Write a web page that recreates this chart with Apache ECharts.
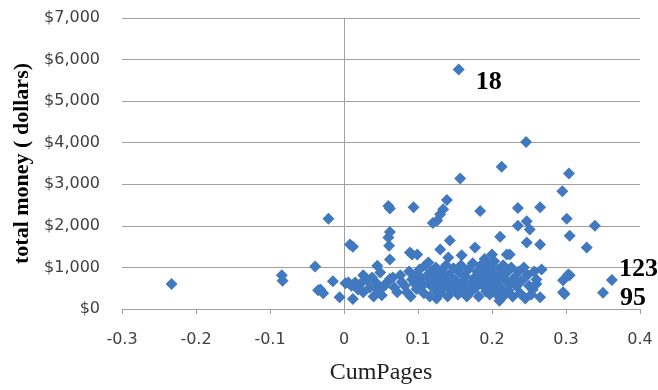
<!DOCTYPE html>
<html>
<head>
<meta charset="utf-8">
<script src="https://cdn.jsdelivr.net/npm/echarts@6/dist/echarts.min.js"></script>
<style>
  html, body { margin: 0; padding: 0; background: #fff; }
  #chart { width: 658px; height: 390px; }
</style>
</head>
<body>
<div id="chart"></div>
<script>
var chart = echarts.init(document.getElementById('chart'));

// CumPages vs total money
var points = [
  [-0.233,600],[-0.084,810],[-0.083,680],[-0.039,1020],[-0.035,450],[-0.028,380],
  [-0.021,2170],[-0.032,470],[-0.015,670],[-0.006,280],[0.008,1550],[0.012,1500],[0.006,640],
  [0.060,2480],[0.062,2420],[0.094,2450],[0.062,1850],[0.060,1720],[0.061,1520],[0.062,1190],
  [0.092,1310],[0.045,1040],
  [0.155,5760],[0.246,4020],[0.157,3140],[0.213,3420],[0.304,3260],[0.295,2830],
  [0.139,2620],[0.134,2400],[0.130,2280],[0.126,2130],[0.120,2070],[0.184,2360],[0.235,2430],
  [0.265,2450],[0.301,2170],[0.339,2000],[0.235,2000],[0.247,2110],[0.251,1910],[0.211,1740],
  [0.305,1760],[0.143,1650],[0.328,1480],[0.247,1600],[0.265,1550],[0.089,1360],[0.130,1430],
  [0.177,1480],[0.224,1310],[0.141,1240],[0.159,1290],[0.114,1120],[0.099,1310],[0.200,1310],
  [0.220,1310],
  [0.296,690],[0.305,810],[0.298,360],[0.350,390],[0.362,700],
  [0.267,950],[0.260,710],[0.255,470],[0.265,280],[0.303,830],[0.296,400],
  [0.002,620],[0.010,560],[0.015,640],[0.019,470],[0.012,240],[0.022,600],[0.026,400],[0.026,810],
  [0.031,710],[0.035,520],[0.038,760],[0.040,300],[0.044,620],[0.049,880],[0.051,330],[0.047,450],
  [0.055,560],[0.058,640],[0.062,720],[0.066,760],[0.068,520],[0.072,400],[0.076,810],[0.078,650],
  [0.082,560],[0.085,400],[0.088,900],[0.090,300],[0.092,710],[0.095,620],[0.099,830],[0.098,480],
  [0.102,950],[0.104,720],[0.106,560],[0.108,380],[0.110,1050],[0.112,800],[0.114,620],[0.116,300],
  [0.118,900],[0.120,700],[0.122,480],[0.124,1000],[0.125,250],[0.127,820],[0.128,600],[0.130,380],
  [0.132,920],[0.134,700],[0.136,520],[0.138,1050],[0.140,300],[0.142,820],[0.144,620],[0.146,450],
  [0.148,980],[0.150,700],
  [0.152,550],[0.154,350],[0.156,880],[0.158,1050],[0.160,650],[0.162,480],[0.164,780],[0.166,300],
  [0.168,950],[0.170,600],[0.172,420],[0.174,1100],[0.176,750],[0.178,520],[0.180,900],[0.182,300],
  [0.184,680],[0.185,1050],[0.186,820],[0.188,560],[0.190,1200],[0.191,950],[0.192,420],[0.193,750],
  [0.194,1100],[0.195,600],[0.196,880],[0.197,350],[0.198,1000],[0.199,700],
  [0.200,520],[0.202,850],[0.203,1150],[0.205,380],[0.206,650],[0.208,950],[0.210,200],[0.211,780],
  [0.213,500],[0.215,1050],[0.216,320],[0.218,700],[0.220,880],[0.222,450],[0.224,600],[0.226,1000],
  [0.228,300],[0.230,750],[0.233,550],[0.236,900],[0.238,380],[0.240,680],[0.243,1000],[0.245,250],
  [0.248,820],[0.250,560],[0.253,350],[0.257,900],[0.260,600]
];

// outliers that carry a case number in the picture
var tagged = [
  { at: [0.155,5760], text: '18',  offset: [6, 13] },
  { at: [0.362,700],  text: '123', offset: [-4, -11] },
  { at: [0.350,390],  text: '95',  offset: [6, 5] }
];

var xTicks = { min: -0.3, max: 0.4, step: 0.1 };
var yTicks = { min: 0, max: 7000, step: 1000 };

var data = points.map(function (p) {
  var t = tagged.filter(function (g) { return g.at[0] === p[0] && g.at[1] === p[1]; })[0];
  if (!t) return p;
  return {
    value: p,
    label: {
      show: true, position: 'right', formatter: t.text, offset: t.offset,
      fontFamily: 'Liberation Serif', fontWeight: 'bold', fontSize: 26, color: '#000'
    }
  };
});

var option = {
  backgroundColor: '#fff',
  animation: false,
  grid: { left: 122, right: 18, top: 18, bottom: 78 },
  xAxis: {
    type: 'value',
    min: xTicks.min, max: xTicks.max, interval: xTicks.step,
    name: 'CumPages',
    nameLocation: 'middle',
    nameGap: 52,
    nameTextStyle: { fontFamily: 'Liberation Serif', fontSize: 24, color: '#222' },
    axisLine: { show: true, onZero: false, lineStyle: { color: '#a0a0a0', width: 1 } },
    axisTick: { show: true, length: 5, lineStyle: { color: '#a0a0a0' } },
    splitLine: { show: false },
    axisLabel: {
      margin: 23,
      fontFamily: 'DejaVu Sans', fontSize: 16, color: '#404040',
      formatter: function (v) { return String(+v.toFixed(1)); }
    }
  },
  yAxis: {
    type: 'value',
    min: yTicks.min, max: yTicks.max, interval: yTicks.step,
    name: 'total money ( dollars)',
    nameLocation: 'middle',
    nameGap: 84,
    nameTextStyle: { fontFamily: 'Liberation Serif', fontWeight: 'bold', fontSize: 22, color: '#000' },
    axisLine: { show: false },
    axisTick: { show: false },
    splitLine: { show: true, lineStyle: { color: '#a0a0a0', width: 1 } },
    axisLabel: {
      margin: 22,
      fontFamily: 'DejaVu Sans', fontSize: 16, color: '#404040',
      formatter: function (v) { return '$' + v.toLocaleString('en-US'); }
    }
  },
  series: [{
    type: 'scatter',
    symbol: 'diamond',
    symbolSize: 12,
    itemStyle: { color: '#4179c0', opacity: 1 },
    data: data,
    z: 3,
    markLine: {
      silent: true,
      symbol: 'none',
      label: { show: false },
      lineStyle: { color: '#a0a0a0', width: 1, type: 'solid' },
      data: [{ xAxis: 0 }],
      z: 1
    }
  }]
};

chart.setOption(option);
</script>
</body>
</html>
